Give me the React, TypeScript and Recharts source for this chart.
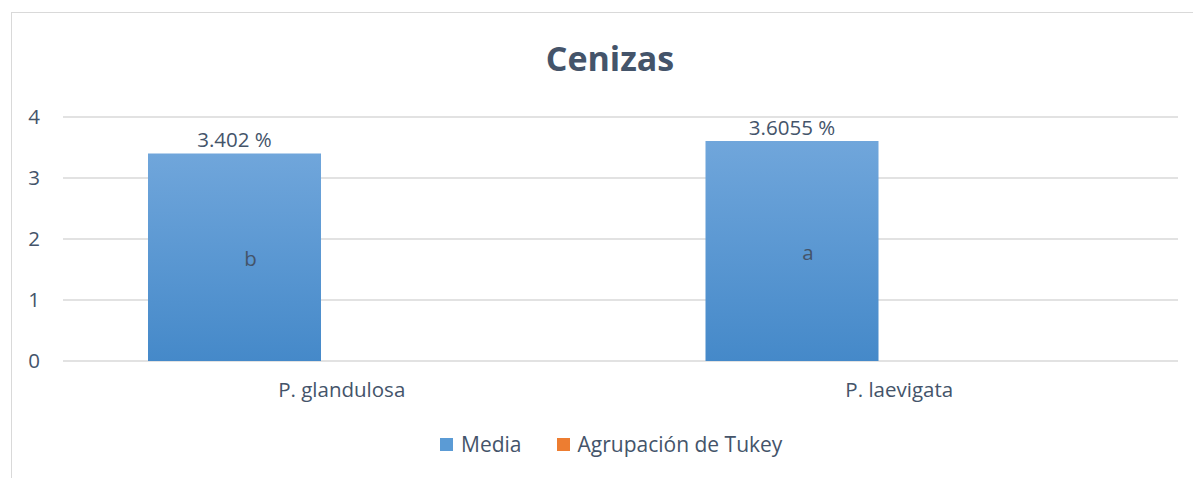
import React from 'react';
import { BarChart, Bar, XAxis, YAxis, CartesianGrid, LabelList } from 'recharts';

const categories = ['P. glandulosa', 'P. laevigata'];
const mediaValues = [3.402, 3.6055];
const tukeyValues = [0, 0];
const tukeyLetters = ['b', 'a'];
const yTicks = [0, 1, 2, 3, 4];
const seriesNames = ['Media', 'Agrupación de Tukey'];
const seriesColors = ['#5B9BD5', '#ED7D31'];

const data = categories.map((c, i) => ({
  name: c,
  media: mediaValues[i],
  tukey: tukeyValues[i],
  letter: tukeyLetters[i],
}));

const TEXT = '#44546A';
const FONT = '"Open Sans", sans-serif';
const FS = 20.5;

const LetterLabel = (props: any) => {
  const { x, y, width, height, index } = props;
  return (
    <text x={x + width / 2 + 16} y={y + height / 2 + 9} textAnchor="middle" fill={TEXT} fontSize={FS} fontFamily={FONT}>
      {tukeyLetters[index]}
    </text>
  );
};

const ValueLabel = (props: any) => {
  const { x, y, width, value } = props;
  return (
    <text x={x + width / 2} y={y - 6} textAnchor="middle" fill={TEXT} fontSize={FS} fontFamily={FONT}>
      {`${value} %`}
    </text>
  );
};

export default function App() {
  return (
    <div style={{ position: 'absolute', left: 0, top: 0, width: 1193, height: 478, background: '#fff', overflow: 'hidden' }}>
      <div style={{ position: 'absolute', left: 11, top: 12, width: 1300, height: 600, border: '1px solid #D9D9D9', boxSizing: 'border-box' }} />
      <div style={{ position: 'absolute', left: 0, width: 1220, top: 35, textAlign: 'center', fontFamily: FONT, fontWeight: 700, fontSize: 34, color: TEXT }}>
        Cenizas
      </div>
      <div style={{ position: 'absolute', left: 0, top: 0 }}>
        <BarChart width={1193} height={478} data={data} margin={{ top: 117, right: 15, left: 0, bottom: 0 }} barSize={173} barGap={41}>
          <defs>
            <linearGradient id="mediaGrad" x1="0" y1="0" x2="0" y2="1">
              <stop offset="0%" stopColor="#70A6DB" />
              <stop offset="100%" stopColor="#4589C9" />
            </linearGradient>
          </defs>
          <CartesianGrid vertical={false} stroke="#D9D9D9" strokeWidth={1.5} />
          <XAxis dataKey="name" axisLine={false} tickLine={false} height={117} tickMargin={15}
            tick={{ fill: TEXT, fontSize: FS, fontFamily: FONT }} />
          <YAxis domain={[0, 4]} ticks={yTicks} axisLine={false} tickLine={false} width={63} tickMargin={17}
            tick={{ fill: TEXT, fontSize: FS, fontFamily: FONT }} />
          <Bar dataKey="media" name={seriesNames[0]} fill="url(#mediaGrad)" isAnimationActive={false}>
            <LabelList dataKey="media" content={<ValueLabel />} />
            <LabelList dataKey="letter" content={<LetterLabel />} />
          </Bar>
          <Bar dataKey="tukey" name={seriesNames[1]} fill={seriesColors[1]} isAnimationActive={false} />
        </BarChart>
      </div>
      <div style={{ position: 'absolute', left: 440, top: 430, display: 'flex', alignItems: 'center', fontFamily: FONT, fontSize: 21, color: TEXT, whiteSpace: 'nowrap' }}>
        <span style={{ display: 'inline-block', width: 13, height: 13, background: seriesColors[0], marginRight: 8 }} />
        <span style={{ marginRight: 35 }}>{seriesNames[0]}</span>
        <span style={{ display: 'inline-block', width: 13, height: 13, background: seriesColors[1], marginRight: 8 }} />
        <span>{seriesNames[1]}</span>
      </div>
    </div>
  );
}
